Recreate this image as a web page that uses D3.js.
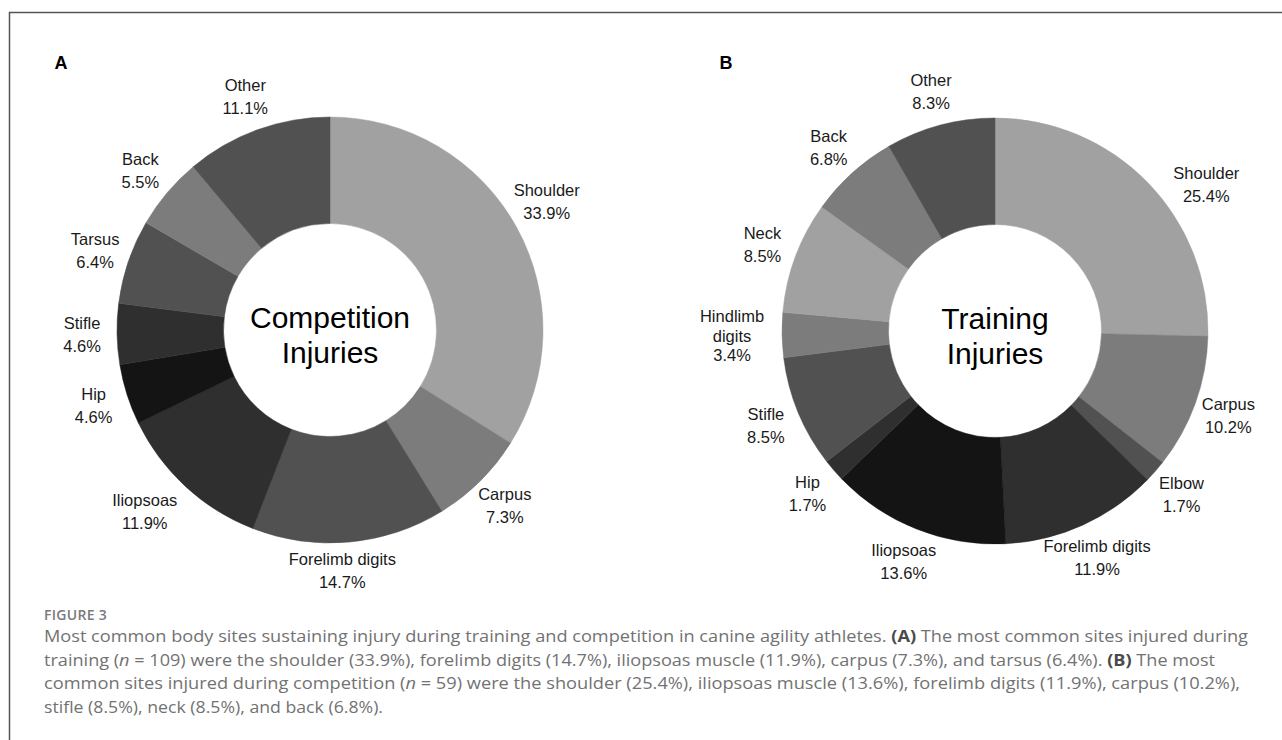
<!DOCTYPE html>
<meta charset="utf-8">
<style>
body { margin: 0; background: #fff; }
.slice-label { font-family: "Liberation Sans", Arial, sans-serif; font-size: 16.5px; fill: #1a1a1a; }
.centre { font-family: "Liberation Sans", Arial, sans-serif; font-size: 30px; fill: #000; }
.panel-letter { font-family: "Liberation Sans", Arial, sans-serif; font-weight: bold; font-size: 18px; fill: #000; }
.caption { font-family: "Open Sans", sans-serif; font-weight: 400; fill: #727272; }
.fig-no { font-family: "Open Sans", sans-serif; font-weight: 600; font-size: 14px; fill: #7a7a7a; letter-spacing: 0.3px; }
</style>
<body>
<script src="https://d3js.org/d3.v7.min.js"></script>
<script>

// ---- panel A : competition injuries ----
var sitesA = ["Shoulder", "Carpus", "Forelimb digits", "Iliopsoas", "Hip", "Stifle", "Tarsus", "Back", "Other"];
var pctA   = [33.9, 7.3, 14.7, 11.9, 4.6, 4.6, 6.4, 5.5, 11.1];
var greysA = ["#a1a1a1", "#7c7c7c", "#515151", "#2f2f2f", "#141414", "#2f2f2f", "#515151", "#7c7c7c", "#515151"];

// ---- panel B : training injuries ----
var sitesB = ["Shoulder", "Carpus", "Elbow", "Forelimb digits", "Iliopsoas", "Hip", "Stifle", "Hindlimb\ndigits", "Neck", "Back", "Other"];
var pctB   = [25.4, 10.2, 1.7, 11.9, 13.6, 1.7, 8.5, 3.4, 8.5, 6.8, 8.3];
var greysB = ["#a1a1a1", "#7c7c7c", "#515151", "#2f2f2f", "#141414", "#2f2f2f", "#515151", "#7c7c7c", "#a1a1a1", "#7c7c7c", "#515151"];

var titleA = ["Competition", "Injuries"];
var titleB = ["Training", "Injuries"];

// a few labels were moved by hand in the original (degrees, extra radius)
var labelNudge = {
  A: { "Iliopsoas": [3, 11], "Forelimb digits": [2.3, -7], "Shoulder": [-1.7, 4] },
  B: { "Shoulder": [9.6, 9] }
};

var W = 1282, H = 740;
var rOuter = 213, rInner = 106.5, rLabel = 248;

var svg = d3.select("body").append("svg")
    .attr("width", W)
    .attr("height", H);

// frame round the figure (runs off the right and bottom edge)
svg.append("rect")
    .attr("x", 9.5).attr("y", 12.5)
    .attr("width", 1320).attr("height", 800)
    .attr("fill", "#fff")
    .attr("stroke", "#555")
    .attr("stroke-width", 1.5);

function drawDonut(cx, cy, key, sites, pcts, greys, title, letter) {
  var data = sites.map(function(s, i) { return {site: s, pct: pcts[i], grey: greys[i]}; });

  var pie = d3.pie().sort(null).value(function(d) { return d.pct; });
  var arc = d3.arc().innerRadius(rInner).outerRadius(rOuter);

  var g = svg.append("g").attr("transform", "translate(" + cx + "," + cy + ")");

  var arcs = pie(data);

  g.selectAll("path.slice")
    .data(arcs)
    .enter().append("path")
      .attr("class", "slice")
      .attr("d", arc)
      .attr("fill", function(d) { return d.data.grey; })
      .attr("stroke", function(d) { return d.data.grey; })
      .attr("stroke-width", 0.5);

  // labels outside the ring
  arcs.forEach(function(d) {
    var lines = d.data.site.split("\n").concat([d.data.pct.toFixed(1) + "%"]);
    var nudge = (labelNudge[key] && labelNudge[key][d.data.site]) || [0, 0];
    var mid = (d.startAngle + d.endAngle) / 2 + nudge[0] * Math.PI / 180;
    var r = rLabel + (lines.length - 2) * 15 + nudge[1];
    var pos = d3.arc().innerRadius(r).outerRadius(r).centroid({startAngle: mid, endAngle: mid});
    var lh = lines.length > 2 ? 19.5 : 23;

    var t = g.append("text")
        .attr("class", "slice-label")
        .attr("text-anchor", "middle");
    lines.forEach(function(l, i) {
      t.append("tspan")
        .attr("x", pos[0])
        .attr("y", pos[1] + (i - (lines.length - 1) / 2) * lh)
        .attr("dominant-baseline", "central")
        .text(l);
    });
  });

  // title in the hole
  title.forEach(function(l, i) {
    g.append("text")
      .attr("class", "centre")
      .attr("text-anchor", "middle")
      .attr("dominant-baseline", "central")
      .attr("y", -13 + i * 35)
      .text(l);
  });

  svg.append("text")
    .attr("class", "panel-letter")
    .attr("x", cx - 269)
    .attr("y", 63)
    .attr("text-anchor", "middle")
    .attr("dominant-baseline", "central")
    .text(letter);
}

drawDonut(330, 330, "A", sitesA, pctA, greysA, titleA, "A");
drawDonut(995, 331, "B", sitesB, pctB, greysB, titleB, "B");

// ---- caption ----
svg.append("text")
  .attr("class", "fig-no")
  .attr("x", 44)
  .attr("y", 620)
  .text("FIGURE 3");

var captionLines = [
  [["Most common body sites sustaining injury during training and competition in canine agility athletes. ", ""], ["(A)", "b"], [" The most common sites injured during", ""]],
  [["training (", ""], ["n", "i"], [" = 109) were the shoulder (33.9%), forelimb digits (14.7%), iliopsoas muscle (11.9%), carpus (7.3%), and tarsus (6.4%). ", ""], ["(B)", "b"], [" The most", ""]],
  [["common sites injured during competition (", ""], ["n", "i"], [" = 59) were the shoulder (25.4%), iliopsoas muscle (13.6%), forelimb digits (11.9%), carpus (10.2%),", ""]],
  [["stifle (8.5%), neck (8.5%), and back (6.8%).", ""]]
];
// width each caption line takes in the original page
var captionWidths = [1204, 1171, 1196, 339];

var cap = svg.append("g").attr("class", "caption");
captionLines.forEach(function(parts, i) {
  var t = cap.append("text")
    .attr("x", 44)
    .attr("y", 642 + i * 23.5)
    .attr("textLength", captionWidths[i])
    .attr("lengthAdjust", "spacingAndGlyphs")
    .style("font-size", "16.4px");
  parts.forEach(function(p) {
    var s = t.append("tspan").text(p[0]);
    if (p[1] === "b") s.style("font-weight", "bold").style("fill", "#4a4a4a");
    if (p[1] === "i") s.style("font-style", "italic");
  });
});

</script>
</body>
